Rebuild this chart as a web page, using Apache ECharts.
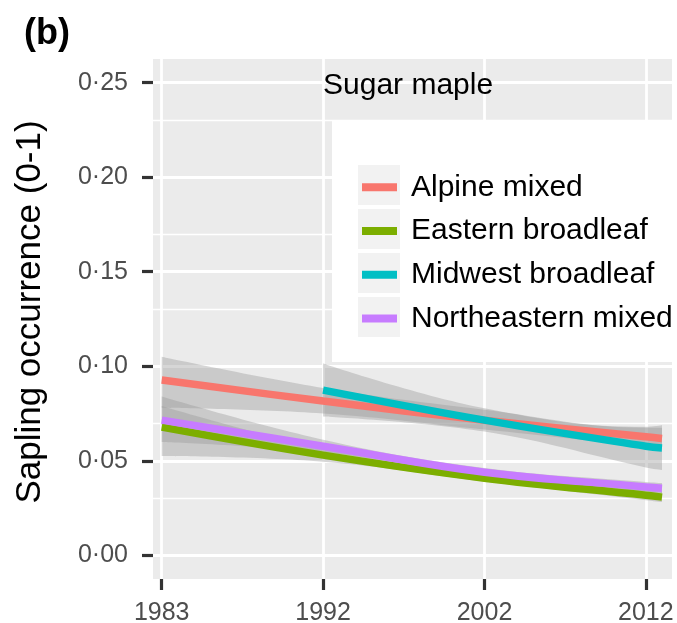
<!DOCTYPE html>
<html><head><meta charset="utf-8">
<script src="https://cdn.jsdelivr.net/npm/echarts@6/dist/echarts.min.js"></script>
<style>html,body{margin:0;padding:0;background:#fff}#c{width:677px;height:623px}</style>
</head><body><div id="c"></div>
<script>
// ---- data ----
const seriesNames = ['Alpine mixed', 'Eastern broadleaf', 'Midwest broadleaf', 'Northeastern mixed'];
const seriesColors = ['#F8766D', '#7CAE00', '#00BFC4', '#C77CFF'];
const xTickPos = [0, 1, 2, 3];
const xTickLabels = ['1983', '1992', '2002', '2012'];
const yTicks = [0, 0.05, 0.10, 0.15, 0.20, 0.25];
const yMinor = [0.025, 0.075, 0.125, 0.175, 0.225];

const alpineX   = [0, 1, 2, 3, 3.1];
const alpineFit = [0.0927, 0.0816, 0.0715, 0.0627, 0.0618];
const alpineLo  = [0.0780, 0.0750, 0.0665, 0.0575, 0.0565];
const alpineHi  = [0.1050, 0.0885, 0.0770, 0.0675, 0.0675];

const eastX   = [0, 1, 2, 3, 3.1];
const eastFit = [0.0678, 0.0530, 0.0408, 0.0318, 0.0308];
const eastLo  = [0.0525, 0.0495, 0.0390, 0.0292, 0.0282];
const eastHi  = [0.0790, 0.0565, 0.0428, 0.0345, 0.0336];

const midX   = [1, 2, 3, 3.1];
const midFit = [0.0874, 0.0715, 0.0577, 0.0568];
const midLo  = [0.0735, 0.0655, 0.0465, 0.0452];
const midHi  = [0.1015, 0.0778, 0.0680, 0.0688];

const neX   = [0, 1, 2, 3, 3.1];
const neFit = [0.0715, 0.0577, 0.0440, 0.0362, 0.0355];
const neLo  = [0.0600, 0.0545, 0.0420, 0.0338, 0.0330];
const neHi  = [0.0840, 0.0612, 0.0462, 0.0388, 0.0382];

// ---- build ----
const groups = [
  {x: alpineX, fit: alpineFit, lo: alpineLo, hi: alpineHi},
  {x: eastX, fit: eastFit, lo: eastLo, hi: eastHi},
  {x: midX, fit: midFit, lo: midLo, hi: midHi},
  {x: neX, fit: neFit, lo: neLo, hi: neHi}
];
const FONT = 'Liberation Sans, Arial, Helvetica, sans-serif';
const series = [];
groups.forEach((g, i) => {
  // stacked pairs are [yValue, x] so that the stacked dimension is y
  series.push({
    type: 'line', name: 'ci_lo_' + i, stack: 'ci' + i,
    data: g.x.map((x, j) => [g.lo[j], x]), encode: {x: 1, y: 0},
    symbol: 'none', smooth: 0.4, silent: true, lineStyle: {opacity: 0, width: 0}
  });
  series.push({
    type: 'line', name: 'ci_band_' + i, stack: 'ci' + i,
    data: g.x.map((x, j) => [g.hi[j] - g.lo[j], x]), encode: {x: 1, y: 0},
    symbol: 'none', smooth: 0.4, silent: true, lineStyle: {opacity: 0, width: 0},
    areaStyle: {color: '#999999', opacity: 0.4}
  });
  series.push({
    type: 'line', name: seriesNames[i], data: g.x.map((x, j) => [x, g.fit[j]]), color: seriesColors[i],
    symbol: 'none', smooth: 0.4, lineStyle: {width: 7.5, color: seriesColors[i], cap: 'butt'},
    itemStyle: {color: seriesColors[i]}
  });
});
const major = {color: '#ffffff', width: 2.8, type: 'solid'};
const minor = {color: '#ffffff', width: 1.4, type: 'solid'};
series[2].markLine = {
  silent: true, z: 1, symbol: ['none', 'none'], label: {show: false}, animation: false,
  emphasis: {disabled: true},
  data: [].concat(
    yTicks.map(v => ({yAxis: v, lineStyle: major})),
    yMinor.map(v => ({yAxis: v, lineStyle: minor})),
    xTickPos.map(v => ({xAxis: v, lineStyle: major}))
  )
};

const tickStyle = {color: '#333333', width: 3.2, type: 'solid', opacity: 1};
const chart = echarts.init(document.getElementById('c'), null, {renderer: 'canvas'});
chart.setOption({
  animation: false,
  textStyle: {fontFamily: FONT},
  title: [
    {text: '(b)', left: 24, top: 16, padding: 0,
     textStyle: {fontSize: 36, fontWeight: 'bold', color: '#000', fontFamily: FONT}},
    {text: 'Sugar maple', left: 323, top: 71, padding: 0, z: 6,
     textStyle: {fontSize: 30, fontWeight: 'normal', color: '#000', fontFamily: FONT}}
  ],
  graphic: [
    {type: 'rect', shape: {x: 332, y: 120, width: 345, height: 242},
     style: {fill: '#ffffff'}, z: 3, silent: true}
  ],
  grid: {left: 153, right: 5, top: 59, bottom: 44, show: true, backgroundColor: '#EBEBEB',
         borderWidth: 0, containLabel: false, outerBoundsMode: 'none'},
  xAxis: {
    type: 'value', min: -0.054, max: 3.162, z: 3, position: 'bottom',
    splitLine: {show: false}, axisLine: {show: false, onZero: false},
    axisTick: {show: true, inside: false, customValues: xTickPos, length: 11, lineStyle: tickStyle},
    axisLabel: {customValues: xTickPos, formatter: v => xTickLabels[xTickPos.indexOf(v)],
                color: '#4D4D4D', fontSize: 25, margin: 22, fontFamily: FONT}
  },
  yAxis: {
    type: 'value', min: -0.0125, max: 0.2625, z: 3, position: 'left',
    splitLine: {show: false}, axisLine: {show: false, onZero: false},
    axisTick: {show: true, inside: false, customValues: yTicks, length: 11, lineStyle: tickStyle},
    axisLabel: {customValues: yTicks, formatter: v => v.toFixed(2).replace('.', '\u00B7'),
                color: '#4D4D4D', fontSize: 25, margin: 25, fontFamily: FONT},
    name: 'Sapling occurrence (0-1)', nameLocation: 'middle', nameGap: 105,
    nameTextStyle: {fontSize: 35, color: '#000', fontFamily: FONT, padding: [0, 0, 0, 14]}
  },
  legend: [
    {
      left: 358, top: 165, orient: 'vertical', padding: 0, itemGap: 4,
      itemWidth: 42, itemHeight: 40, icon: 'rect',
      data: seriesNames.map(n => ({name: n, itemStyle: {color: '#F2F2F2', borderWidth: 0}})),
      formatter: () => '', textStyle: {fontSize: 10}, z: 4, selectedMode: false
    },
    {
      left: 362, top: 165.5, orient: 'vertical', padding: 0, itemGap: 0,
      itemWidth: 35, itemHeight: 8, icon: 'rect', data: seriesNames,
      itemStyle: {borderWidth: 0}, lineStyle: {width: 0},
      textStyle: {fontSize: 30, color: '#000', lineHeight: 43.7, padding: [0, 0, 0, 9], fontFamily: FONT},
      z: 5, selectedMode: false
    }
  ],
  series: series
});
</script>
</body></html>
